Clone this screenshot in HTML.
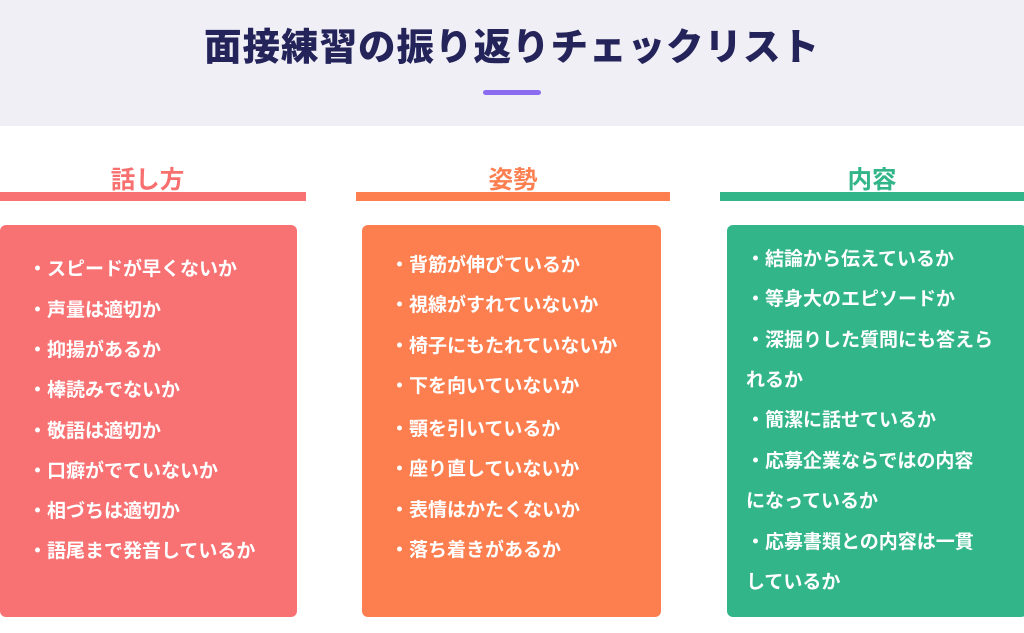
<!DOCTYPE html>
<html><head><meta charset="utf-8"><style>
body{margin:0;width:1024px;height:633px;overflow:hidden;background:#fff;position:relative;font-family:"Liberation Sans","Noto Sans CJK JP",sans-serif}
.hd{position:absolute;left:0;top:0;width:1024px;height:126px;background:#f0eff6}
.t{position:absolute;left:0;width:1024px;top:25px;line-height:44px;text-align:center;font-size:37.5px;font-weight:900;color:#24245a;letter-spacing:1px}
.pb{position:absolute;left:483px;top:90px;width:58px;height:5px;border-radius:3px;background:#8b6cf0}
.h{position:absolute;top:166px;line-height:30px;font-size:24.5px;font-weight:700;text-align:center}
.bar{position:absolute;top:192px;height:9px}
.box{position:absolute;top:225px;height:392px;border-radius:6px}
.it{position:absolute;color:#fff;font-size:19px;line-height:22px;font-weight:700;white-space:nowrap;margin-top:2px}
</style></head><body>
<div class="hd"></div>
<div class="t">面接練習の振り返りチェックリスト</div>
<div class="pb"></div>

<div class="h" style="left:0;width:295px;color:#f7706f">話し方</div>
<div class="bar" style="left:0;width:306px;background:#f87274"></div>
<div class="box" style="left:0;width:297px;background:#f87274"></div>

<div class="h" style="left:356px;width:314px;color:#fd7f50">姿勢</div>
<div class="bar" style="left:356px;width:314px;background:#fd7f50"></div>
<div class="box" style="left:362px;width:299px;background:#fd7f50"></div>

<div class="h" style="left:720px;width:304px;color:#33b58a">内容</div>
<div class="bar" style="left:720px;width:304px;background:#33b58a"></div>
<div class="box" style="left:727px;width:300px;background:#33b58a"></div>

<div class="it" style="left:28px;top:257px">・スピードが早くないか</div>
<div class="it" style="left:28px;top:298px">・声量は適切か</div>
<div class="it" style="left:28px;top:338px">・抑揚があるか</div>
<div class="it" style="left:28px;top:378px">・棒読みでないか</div>
<div class="it" style="left:28px;top:419px">・敬語は適切か</div>
<div class="it" style="left:28px;top:459px">・口癖がでていないか</div>
<div class="it" style="left:28px;top:499px">・相づちは適切か</div>
<div class="it" style="left:28px;top:539px">・語尾まで発音しているか</div>

<div class="it" style="left:390px;top:253px">・背筋が伸びているか</div>
<div class="it" style="left:390px;top:293px">・視線がすれていないか</div>
<div class="it" style="left:390px;top:334px">・椅子にもたれていないか</div>
<div class="it" style="left:390px;top:374px">・下を向いていないか</div>
<div class="it" style="left:390px;top:417px">・顎を引いているか</div>
<div class="it" style="left:390px;top:457px">・座り直していないか</div>
<div class="it" style="left:390px;top:498px">・表情はかたくないか</div>
<div class="it" style="left:390px;top:538px">・落ち着きがあるか</div>

<div class="it" style="left:746px;top:247px">・結論から伝えているか</div>
<div class="it" style="left:746px;top:287px">・等身大のエピソードか</div>
<div class="it" style="left:746px;top:328px">・深掘りした質問にも答えら</div>
<div class="it" style="left:746px;top:368px">れるか</div>
<div class="it" style="left:746px;top:408px">・簡潔に話せているか</div>
<div class="it" style="left:746px;top:449px">・応募企業ならではの内容</div>
<div class="it" style="left:746px;top:489px">になっているか</div>
<div class="it" style="left:746px;top:530px">・応募書類との内容は一貫</div>
<div class="it" style="left:746px;top:570px">しているか</div>
</body></html>
